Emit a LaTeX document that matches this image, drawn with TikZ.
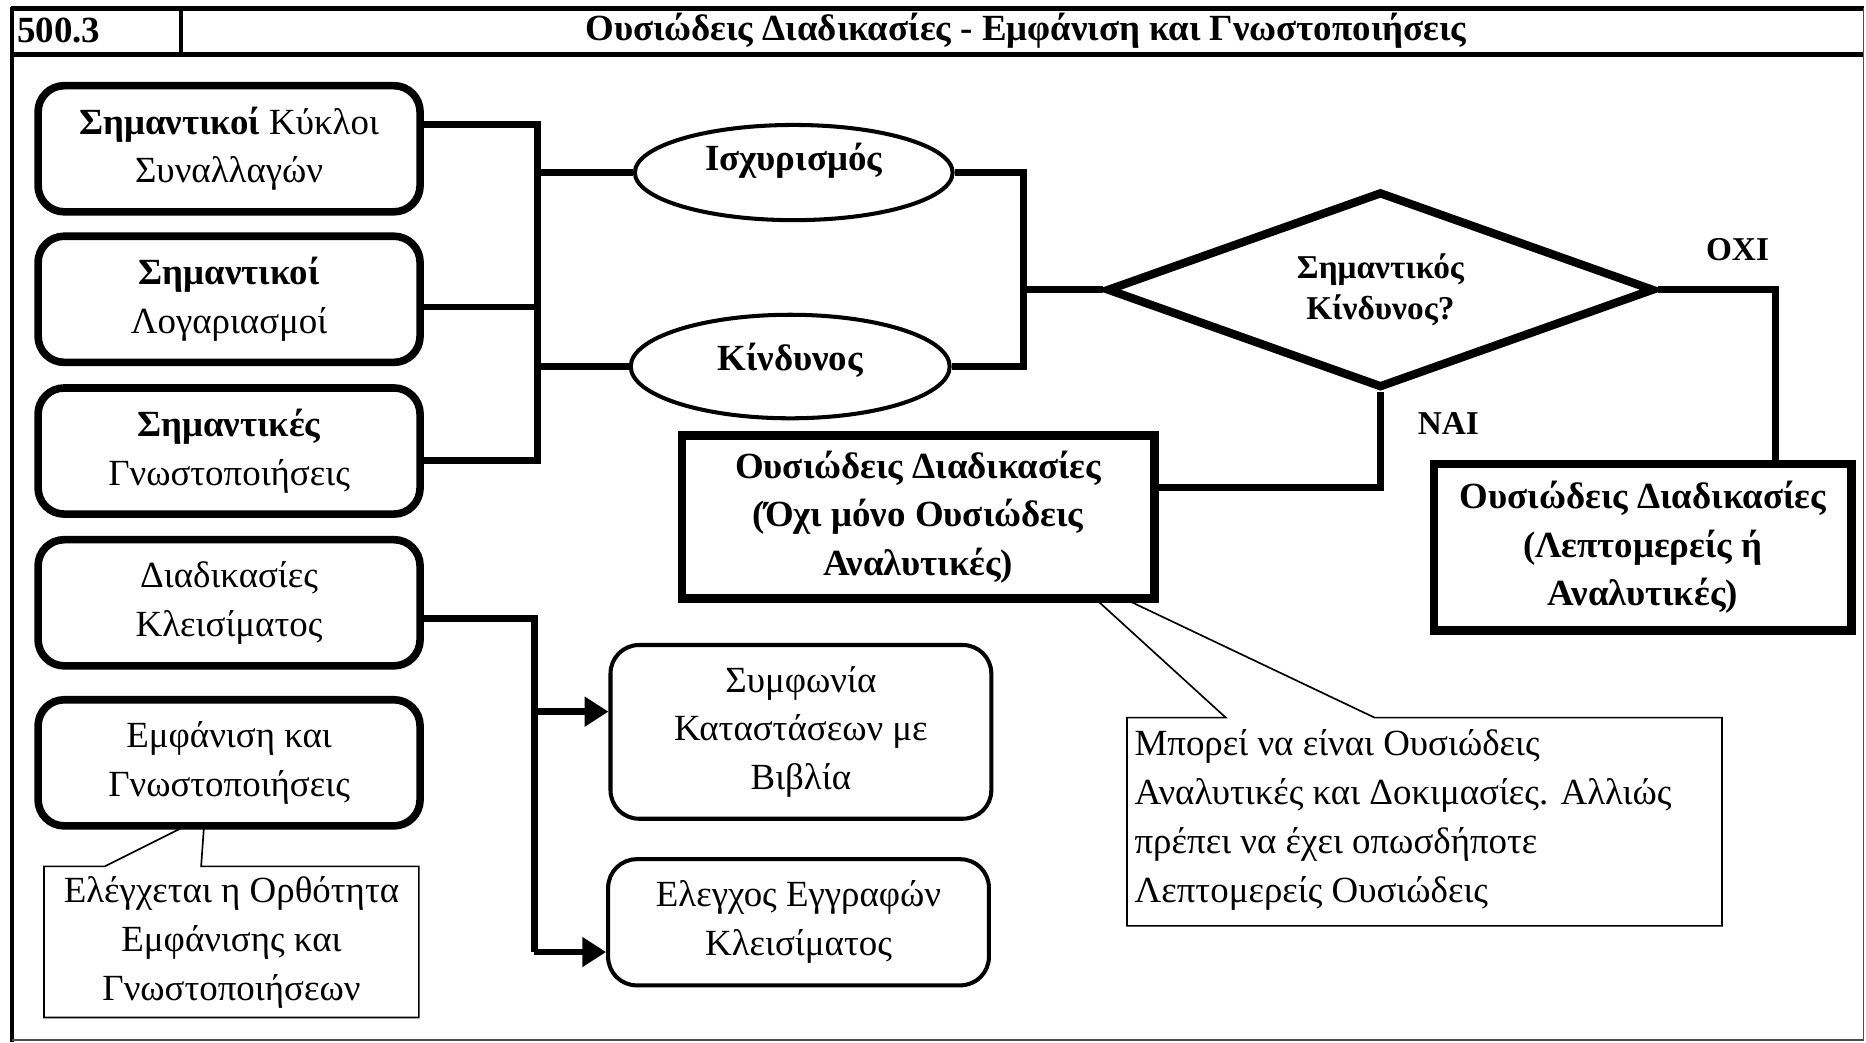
\documentclass[tikz,border=0pt]{standalone}
\usepackage{fontspec}
\setmainfont{Liberation Serif}
\usetikzlibrary{shapes.geometric,arrows.meta}
\begin{document}
\begin{tikzpicture}[x=0.5pt,y=-0.5pt,
  txt/.style={font=\fontsize{15.5}{20.5}\selectfont, align=center, inner sep=0pt},
  rbox/.style={txt, draw, fill=white, line width=3.2pt, rounded corners=11pt, minimum width=160.5pt, minimum height=53pt},
  sbox2/.style={txt, draw, fill=white, line width=1.7pt, rounded corners=12pt, minimum width=160pt},
  ell/.style={draw, fill=white, ellipse, line width=1.7pt, inner sep=0pt},
  etxt/.style={txt, font=\fontsize{15.5}{20.5}\selectfont\bfseries},
  dia/.style={txt, font=\fontsize{14}{17.5}\selectfont\bfseries, draw, fill=white, diamond, shape aspect=2.8, line width=3.5pt, minimum width=230pt, minimum height=82.5pt},
  mbox/.style={txt, font=\fontsize{15.5}{20.5}\selectfont\bfseries, draw, fill=white, line width=3.6pt},
  lbl/.style={txt, font=\fontsize{14}{17}\selectfont\bfseries},
  conn/.style={line width=2.9pt},
  arr/.style={line width=2.9pt, -{Triangle[length=10pt,width=12pt]}},
  cbox/.style={line width=0.7pt, fill=white},
  hdr/.style={txt, font=\fontsize{15.5}{18}\selectfont\bfseries}
]
\useasboundingbox (0,0) rectangle (1568,876);

% frame and header
\draw[line width=2pt] (9,7) -- (1566,7);
\draw[line width=2pt] (9,46) -- (1566,46);
\draw[line width=2pt] (152,7) -- (152,46);
\draw[line width=2pt] (10,6) -- (10,876);
\draw[line width=0.6pt, black!70] (1566,7) -- (1566,874) -- (10,874);
\node[hdr, anchor=west] (num) at (14,26) {500.3};
\node[hdr] (title) at (862,26) {Ουσιώδεις Διαδικασίες - Εμφάνιση και Γνωστοποιήσεις};

% callout shapes (behind boxes)
\draw[cbox] (947,603) -- (1030,603) -- (894,479) -- (1155,603) -- (1447,603) -- (1447,778) -- (947,778) -- cycle;
\node[txt, align=left, anchor=north west] (c1) at (953,613) {Μπορεί να είναι Ουσιώδεις\\Αναλυτικές και Δοκιμασίες. Αλλιώς\\πρέπει να έχει οπωσδήποτε\\Λεπτομερείς Ουσιώδεις};
\draw[cbox] (37,728) -- (88,728) -- (172,686) -- (169,728) -- (352,728) -- (352,855) -- (37,855) -- cycle;
\node[txt] (c2) at (194.5,792) {Ελέγχεται η Ορθότητα\\Εμφάνισης και\\Γνωστοποιήσεων};

% left boxes
\node[rbox] (b1) at (192.5,125) {\textbf{Σημαντικοί} Κύκλοι\\Συναλλαγών};
\node[rbox] (b2) at (192.5,251.5) {\textbf{Σημαντικοί}\\Λογαριασμοί};
\node[rbox] (b3) at (192.5,379) {\textbf{Σημαντικές}\\Γνωστοποιήσεις};
\node[rbox] (b4) at (192.5,506.5) {Διαδικασίες\\Κλεισίματος};
\node[rbox] (b5) at (192.5,641) {Εμφάνιση και\\Γνωστοποιήσεις};

% ellipses
\node[ell, minimum width=133.5pt, minimum height=40pt] (e1) at (667,145) {};
\node[etxt] (e1t) at (667,135) {Ισχυρισμός};
\node[ell, minimum width=134pt, minimum height=43.5pt] (e2) at (664,308) {};
\node[etxt] (e2t) at (664,303) {Κίνδυνος};

% diamond and result boxes
\node[dia] (d) at (1160,243.5) {Σημαντικός\\Κίνδυνος?};
\node[mbox, minimum width=198.5pt, minimum height=68.5pt] (mb) at (771.5,434.5) {Ουσιώδεις Διαδικασίες\\(Όχι μόνο Ουσιώδεις\\Αναλυτικές)};
\node[mbox, minimum width=175.5pt, minimum height=70pt] (rb) at (1380.5,460) {Ουσιώδεις Διαδικασίες\\(Λεπτομερείς ή\\Αναλυτικές)};

% lower boxes
\node[sbox2, minimum height=73pt] (s1) at (673,615) {Συμφωνία\\Καταστάσεων με\\Βιβλία};
\node[sbox2, minimum height=53pt] (s2) at (671,775) {Ελεγχος Εγγραφών\\Κλεισίματος};

% labels
\node[lbl] (oxi) at (1460,210) {ΟΧΙ};
\node[lbl] (nai) at (1217,356) {ΝΑΙ};

% connectors: left bar
\coordinate (bt) at (452,102);
\coordinate (bb) at (452,390);
\coordinate (j1) at (452,105);
\coordinate (j2) at (452,258);
\coordinate (j3) at (452,387);
\draw[conn] (bt) -- (bb);
\draw[conn] (b1.east |- j1) -- (j1);
\draw[conn] (b2.east |- j2) -- (j2);
\draw[conn] (b3.east |- j3) -- (j3);
\draw[conn] (e1.west -| bt) -- (e1.west);
\draw[conn] (e2.west -| bt) -- (e2.west);

% right of ellipses
\coordinate (kx) at (860,0);
\draw[conn] (e1.east) -- (e1.east -| kx) -- (e2.east -| kx) -- (e2.east);
\draw[conn] (d.west -| kx) -- (d.west);

% diamond outputs
\coordinate (ox) at (1492,0);
\coordinate (ny) at (0,410);
\draw[conn] (d.east) -- (d.east -| ox) -- (rb.north -| ox);
\draw[conn] (d.south) -- (d.south |- ny) -- (mb.east |- ny);

% lower connectors
\coordinate (a0) at (449,520);
\coordinate (a1) at (449,598);
\coordinate (a2) at (449,800);
\draw[conn] (b4.east |- a0) -- (a0) -- (a2);
\draw[arr] (a1) -- (s1.west |- a1);
\draw[arr] (a2) -- (s2.west |- a2);
\end{tikzpicture}
\end{document}
